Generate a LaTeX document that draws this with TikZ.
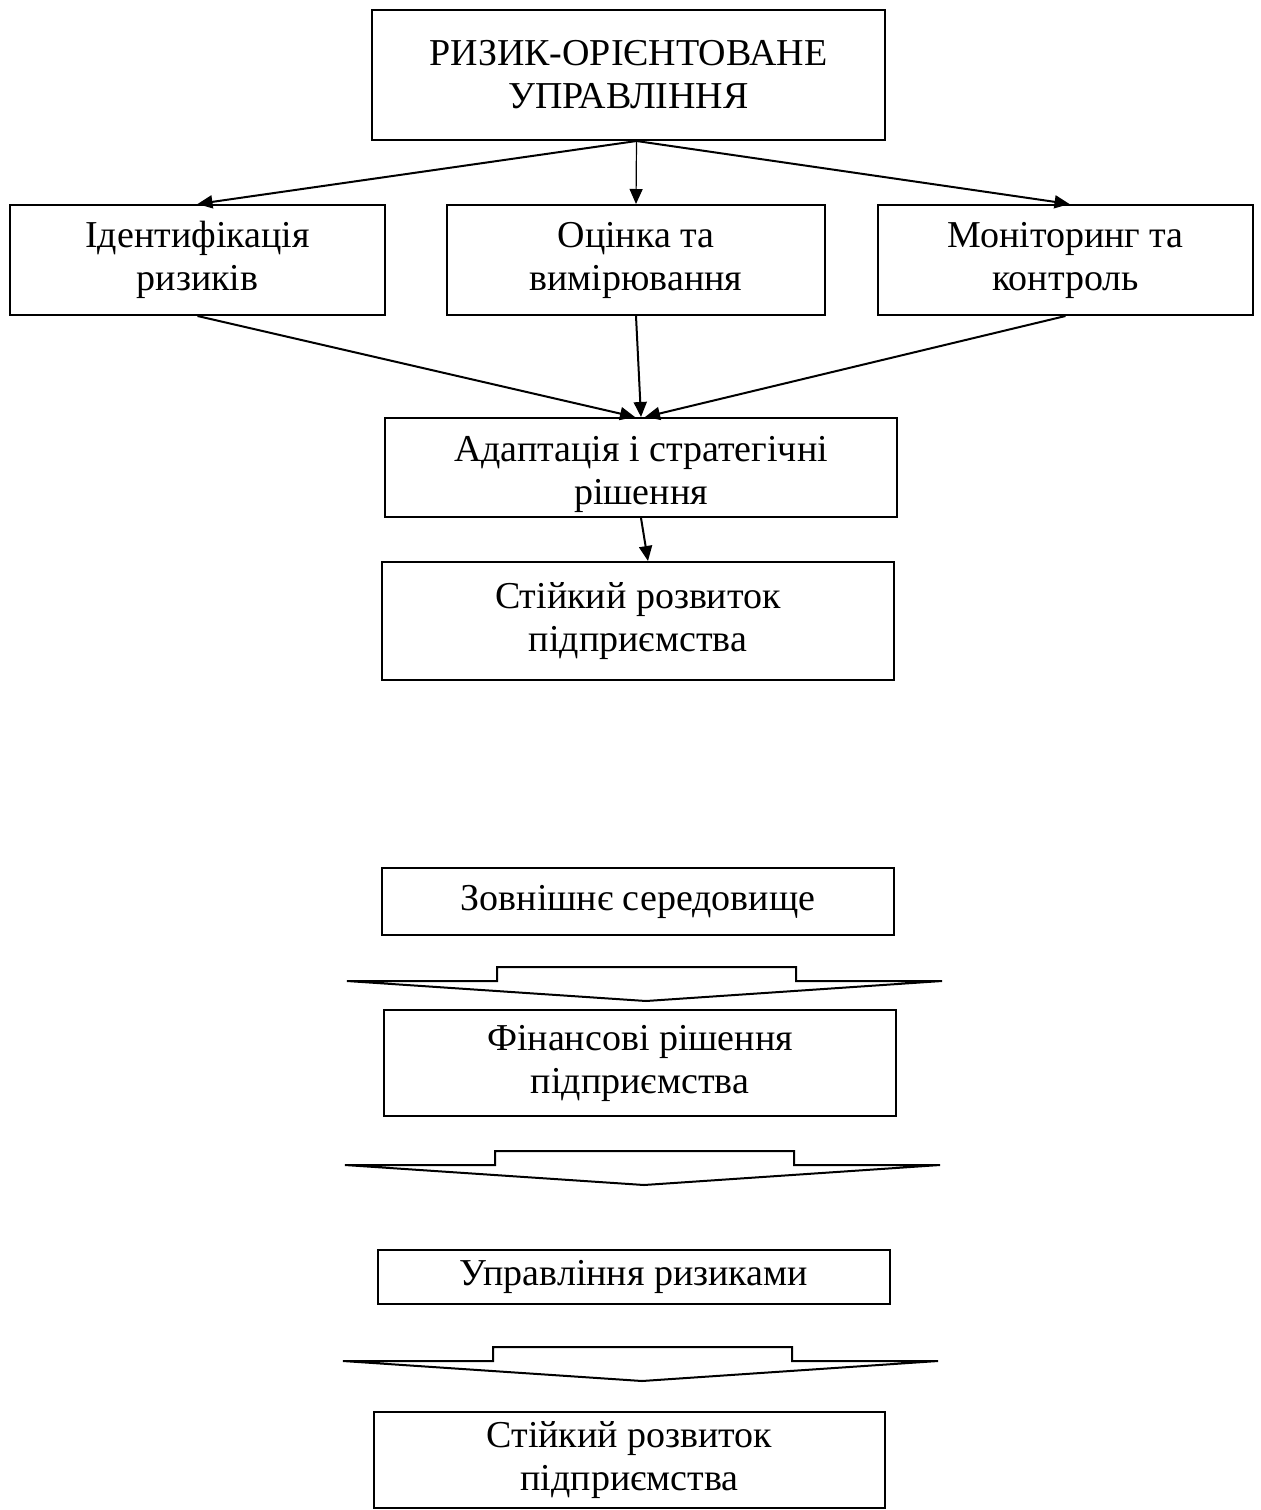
\documentclass[tikz,border=0pt]{standalone}
\usepackage{fontspec}
\setmainfont{Liberation Serif}
\usetikzlibrary{arrows.meta}

\begin{document}
\begin{tikzpicture}
  [x=0.5pt,y=-0.5pt,
   blok/.style={draw,line width=1pt,inner sep=0pt,align=center,
     font=\fontsize{19}{21.5}\selectfont},
   strilka/.style={line width=1pt,-{Triangle[length=7.5pt,width=6.5pt]}},
   potik/.pic={\draw[line width=1pt,line join=miter]
     (-299,-20)--(-149,-20)--(-149,-34)--(150,-34)--(150,-20)--(296,-20)--(0,0)--cycle;}]
  \useasboundingbox (0,0) rectangle (1261,1510);
  % верхня схема
  \node[blok,minimum width=256.5pt,minimum height=65pt] (top) at (628.5,75)
    {РИЗИК-ОРІЄНТОВАНЕ\\УПРАВЛІННЯ};
  \node[blok,minimum width=187.5pt,minimum height=55pt] (id) at (197.5,260)
    {Ідентифікація\\ризиків};
  \node[blok,minimum width=189pt,minimum height=55pt] (ocin) at (636,260)
    {Оцінка та\\вимірювання};
  \node[blok,minimum width=187.5pt,minimum height=55pt] (mon) at (1065.5,260)
    {Моніторинг та\\контроль};
  \node[blok,minimum width=256pt,minimum height=49.5pt] (adapt) at (641,467.5)
    {\rule{0pt}{20pt}Адаптація і стратегічні\\рішення};
  \node[blok,minimum width=256pt,minimum height=59pt] (st) at (638,621)
    {Стійкий розвиток\\підприємства};
  \draw[strilka] ([xshift=4pt]top.south) -- (id.north);
  \draw[strilka,line width=0.6pt] ([xshift=4pt]top.south) -- (ocin.north);
  \draw[strilka] ([xshift=4pt]top.south) -- ([xshift=2pt]mon.north);
  \draw[strilka] (id.south) -- ([xshift=-3pt]adapt.north);
  \draw[strilka] (ocin.south) -- (adapt.north);
  \draw[strilka] (mon.south) -- ([xshift=2pt]adapt.north);
  \draw[strilka] (adapt.south) -- ([xshift=5pt]st.north);
  % нижня схема
  \node[blok,minimum width=256pt,minimum height=33.5pt] (zov) at (638,901.5)
    {Зовнішнє середовище};
  \node[blok,minimum width=256pt,minimum height=53pt] (fin) at (640,1063)
    {Фінансові рішення\\підприємства};
  \node[blok,minimum width=256pt,minimum height=27pt] (upr) at (634,1277)
    {Управління ризиками};
  \node[blok,minimum width=255.5pt,minimum height=48pt] (st2) at (629.5,1460)
    {Стійкий розвиток\\підприємства};
  \foreach \x/\y in {646/1001,644/1185,642/1381}
  \path (\x,\y) pic{potik};
\end{tikzpicture}
\end{document}
